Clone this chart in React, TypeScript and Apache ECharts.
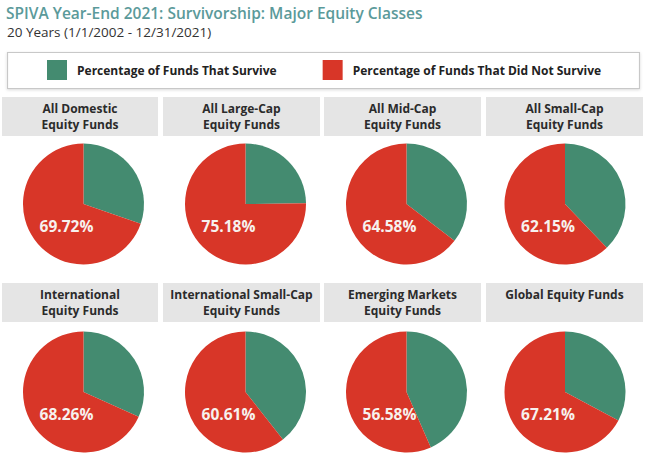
import React, { useEffect, useRef } from "react";
import * as echarts from "echarts";

const categories = [
  "All Domestic\nEquity Funds",
  "All Large-Cap\nEquity Funds",
  "All Mid-Cap\nEquity Funds",
  "All Small-Cap\nEquity Funds",
  "International\nEquity Funds",
  "International Small-Cap\nEquity Funds",
  "Emerging Markets\nEquity Funds",
  "Global Equity Funds",
];
const survived = [30.28, 24.82, 35.42, 37.85, 31.74, 39.39, 43.42, 32.79];
const notSurvived = [69.72, 75.18, 64.58, 62.15, 68.26, 60.61, 56.58, 67.21];
const seriesNames = ["Percentage of Funds That Survive", "Percentage of Funds That Did Not Survive"];

const GREEN = "#448b70";
const RED = "#d83628";
const FONT = "'Open Sans', 'Noto Sans', sans-serif";

export default function App() {
  const ref = useRef<HTMLDivElement>(null);
  useEffect(() => {
    if (!ref.current) return;
    const chart = echarts.init(ref.current, undefined, { renderer: "svg" });
    const colX = [83.5, 245.5, 406.5, 565];
    const rowY = [204, 392];
    const boxX = [[2, 158], [163, 320], [324, 481], [486, 643]];
    const boxY = [[97, 136], [283, 322]];

    const graphics: any[] = [
      {
        type: "rect",
        shape: { x: 7.5, y: 52.5, width: 632, height: 36 },
        style: { fill: "#fff", stroke: "#c8c8c8", lineWidth: 1.2, shadowBlur: 3, shadowColor: "rgba(0,0,0,0.15)", shadowOffsetY: 1 },
        z: -1,
      },
    ];
    categories.forEach((c, i) => {
      const col = i % 4;
      const row = Math.floor(i / 4);
      const [x0, x1] = boxX[col];
      const [y0, y1] = boxY[row];
      graphics.push({
        type: "rect",
        shape: { x: x0, y: y0, width: x1 - x0, height: y1 - y0 },
        style: { fill: "#e5e5e5" },
        z: -1,
      });
      graphics.push({
        type: "text",
        x: (x0 + x1) / 2,
        y: y0 + 4,
        style: {
          text: c,
          align: "center",
          verticalAlign: "top",
          fill: "#2b2b2b",
          fontSize: 12,
          fontWeight: "bold",
          fontFamily: FONT,
          lineHeight: 15.5,
        },
      });
    });

    const series = categories.map((c, i) => {
      const col = i % 4;
      const row = Math.floor(i / 4);
      return {
        type: "pie",
        name: c,
        center: [colX[col], rowY[row]],
        radius: 60.5,
        startAngle: 90,
        clockwise: true,
        silent: true,
        labelLine: { show: false },
        label: {
          show: true,
          position: "center",
          color: "#f7f1ee",
          fontSize: 15.5,
          fontWeight: "bold",
          fontFamily: FONT,
          formatter: (p: any) => (p.dataIndex === 1 ? p.value.toFixed(2) + "%" : ""),
        },
        labelLayout: { dx: -17, dy: 22 },
        data: [
          { name: seriesNames[0], value: survived[i], itemStyle: { color: GREEN } },
          { name: seriesNames[1], value: notSurvived[i], itemStyle: { color: RED } },
        ],
      };
    });

    chart.setOption({
      animation: false,
      backgroundColor: "#ffffff",
      title: [
        {
          text: "SPIVA Year-End 2021: Survivorship: Major Equity Classes",
          left: 6,
          top: 3,
          padding: 0,
          textStyle: { fontFamily: FONT, fontSize: 15.5, fontWeight: 600, color: "#5b9a9a", lineHeight: 19 },
        },
        {
          text: "20 Years (1/1/2002 - 12/31/2021)",
          left: 7,
          top: 24,
          padding: 0,
          textStyle: { fontFamily: FONT, fontSize: 13.5, fontWeight: "normal", color: "#333", lineHeight: 16 },
        },
      ],
      legend: {
        data: seriesNames,
        left: 42,
        top: 55,
        padding: 5,
        itemWidth: 20,
        itemHeight: 20,
        itemGap: 46,
        icon: "rect",
        selectedMode: false,
        textStyle: { fontFamily: FONT, fontSize: 12, fontWeight: "bold", color: "#222", padding: [0, 0, 0, 5] },
      },
      graphic: graphics,
      series,
    });
    return () => chart.dispose();
  }, []);
  return <div ref={ref} style={{ position: "fixed", left: 0, top: 0, width: 650, height: 461 }} />;
}
